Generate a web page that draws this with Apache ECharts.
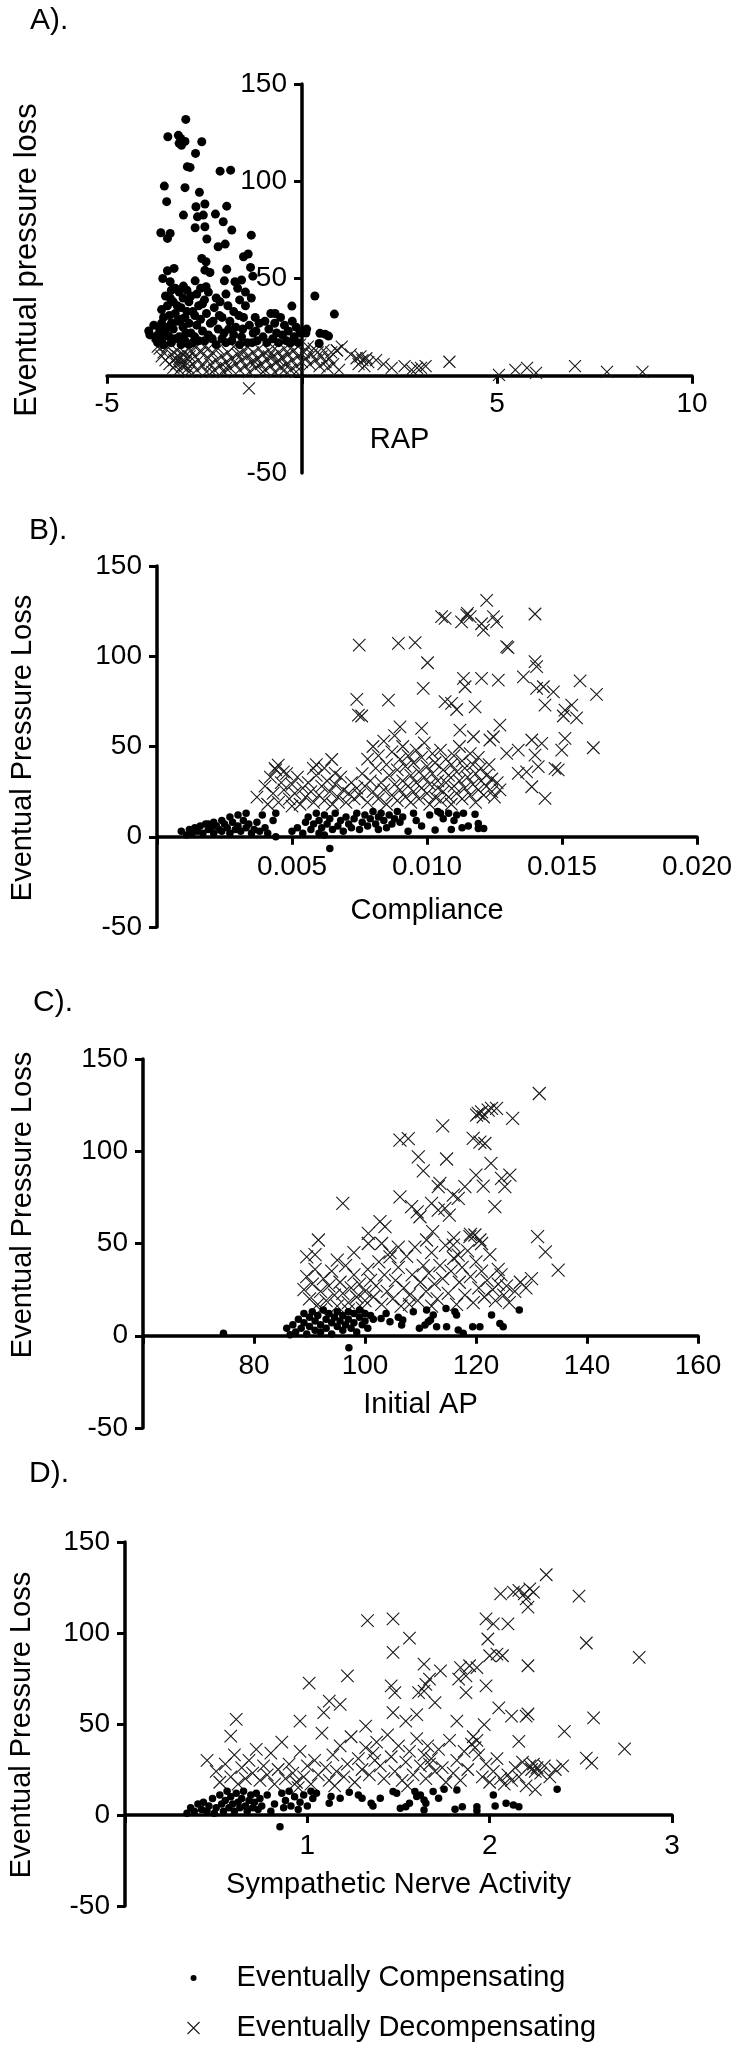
<!DOCTYPE html>
<html>
<head>
<meta charset="utf-8">
<script src="https://cdn.jsdelivr.net/npm/echarts@6/dist/echarts.min.js"></script>
<style>
html,body{margin:0;padding:0;background:#fff;}
#c{width:738px;height:2050px;}
</style>
</head>
<body>
<div id="c"></div>
<script>
// ---------- labels ----------
const panelLabels = ["A).", "B).", "C).", "D)."];
const xTitles = ["RAP", "Compliance", "Initial AP", "Sympathetic Nerve Activity"];
const yTitles = ["Eventual pressure loss", "Eventual Pressure Loss", "Eventual Pressure Loss", "Eventual Pressure Loss"];
const seriesNames = ["Eventually Compensating", "Eventually Decompensating"];
const yTicks = [-50, 0, 50, 100, 150];
const xTicksA = [-5, 0, 5, 10];
const xTicksB = [0, 0.005, 0.010, 0.015, 0.020];
const xTicksC = [60, 80, 100, 120, 140, 160];
const xTicksD = [0, 1, 2, 3];

// ---------- Panel A: RAP vs pressure loss ----------
const rapComp = [
[-2.98,131.8],[-3.44,122.9],[-3.17,123.6],[-3.11,122],[-3.15,119.5],[-3.0,120.5],[-3.09,118.5],[-2.57,120.3],[-2.73,114.3],[-2.94,107.5],[-2.87,107.1],[-2.1,105.2],[-1.83,105.7],[-3.53,97.5],[-3.0,96.7],[-3.47,89.5],[-2.63,94.3],[-2.72,86.9],[-2.49,88.3],[-1.93,87.2],[-3.04,82.6],[-2.68,81.7],[-2.53,82.6],[-2.22,83.1],[-2.02,79.2],[-2.74,76.1],[-2.49,76.6],[-1.8,74.9],[-3.62,73.5],[-3.38,73.2],[-3.45,70.6],[-2.44,70.3],[-1.3,72.3],[-2.15,66.3],[-1.97,67.7],[-1.5,61.2],[-1.38,62.6],[-2.57,60.3],[-2.46,58.6],[-1.32,55.7],[-3.57,50],[-3.45,54],[-3.28,55.2],[-2.49,54.3],[-2.36,53.1],[-1.93,54.7],[-1.26,51.2],[-3.38,48.3],[-1.99,48.8],[-1.72,48.3],[-1.55,49.2],[-3.04,46.1],[-2.74,48.8],[-2.46,45.8],
[-3.93,23],[-3.9,21],[-3.75,19],[-3.7,21],[-3.62,18],[-3.55,16],[-3.5,22],[-3.45,25],[-3.4,20],[-3.35,17],[-3.3,24],[-3.55,30],[-3.45,36],[-3.38,40],[-3.5,41],[-3.3,38],[-3.25,32],[-3.2,28],[-3.15,20],[-3.1,16],[-3.05,25],[-3.0,30],[-3.1,35],[-3.05,40],[-2.95,44],[-3.15,43],[-2.9,38],[-2.95,33],[-2.9,27],[-2.85,22],[-2.8,17],[-2.75,20],[-2.7,26],[-2.75,31],[-2.65,36],[-2.7,42],[-2.6,45],[-2.6,29],[-2.55,23],[-2.5,18],[-2.45,32],[-2.5,39],[-2.4,43],[-2.35,27],[-3.35,27],[-3.6,27],[-3.25,45],[-3.0,18],[-3.65,24],[-3.8,26],
[-3.4,31],[-3.2,36],[-3.25,19],[-2.85,41],[-2.8,33],[-2.65,18],[-3.1,29],[-2.98,22],[-3.55,20],[-3.7,17],[-3.6,34],[-2.4,21],[-2.55,37],[-3.35,44],[-2.9,16],
[-2.3,19],[-2.25,35],[-2.2,40],[-2.15,24],[-2.1,38],[-2.05,30],[-2.0,22],[-1.95,42],[-1.9,36],[-1.85,28],[-1.8,18],[-1.75,33],[-1.7,25],[-1.65,45],[-1.6,39],[-1.55,20],[-1.5,30],[-1.45,36],[-1.4,17],[-1.35,26],[-1.3,40],[-1.25,22],[-1.2,30],[-1.15,18],[-1.1,27],[-2.2,16],[-1.95,17],[-1.6,16],[-1.45,43],[-1.75,21],
[-2.28,28],[-2.05,19],[-1.88,24],[-1.62,31],[-1.52,24],[-1.28,17],[-1.18,23],[-2.12,31],
[-1.0,20],[-0.95,28],[-0.9,17],[-0.85,24],[-0.8,32],[-0.75,19],[-0.7,27],[-0.65,22],[-0.6,17],[-0.55,30],[-0.5,21],[-0.45,26],[-0.4,18],[-0.35,23],[-0.3,17],[-0.25,28],[-0.2,20],[-0.15,25],[-0.1,17],[-0.05,22],[-0.69,32],[-0.26,35.8],
[0.12,24],[0.1,22],[0.33,41],[0.46,21.8],[0.59,21.4],[0.68,20.4],[0.44,16.6],[0.83,31.7]
];
const rapDecomp = [
[-3.65,14],[-3.6,10],[-3.55,12],[-3.5,8],[-3.45,15],[-3.4,6],[-3.35,11],[-3.3,4],[-3.25,9],[-3.2,13],[-3.15,3],[-3.1,7],[-3.05,11],[-3.0,5],[-2.95,9],[-2.9,2],[-2.85,13],[-2.8,6],[-2.75,10],[-2.7,3],[-2.65,8],[-2.6,12],[-2.55,5],[-2.5,15],[-2.45,2],[-2.4,9],[-2.35,6],[-2.3,12],[-2.25,3],[-2.2,8],[-2.15,14],[-2.1,5],[-2.05,10],[-2.0,2],[-1.95,7],[-1.9,12],[-1.85,4],[-1.8,9],[-1.75,15],[-1.7,6],[-1.65,11],[-1.6,3],[-1.55,8],[-1.5,13],[-1.45,5],[-1.4,10],[-1.35,2],[-1.3,7],[-1.25,12],[-1.2,4],[-1.15,9],[-1.1,14],[-1.05,6],[-1.0,11],[-0.95,3],[-0.9,8],[-0.85,13],[-0.8,5],[-0.75,10],[-0.7,2],[-0.65,7],[-0.6,12],[-0.55,4],[-0.5,9],[-0.45,14],[-0.4,6],[-0.35,11],[-0.3,3],[-0.25,8],[-0.2,13],[-0.15,5],[-0.1,10],[-0.05,16],[0.0,7],
[-3.12,9],[-3.08,5],[-3.02,12],[-2.98,7],[-3.18,10],[-2.92,4],[-3.22,6],[-3.28,8],[-2.88,10],[-3.5,16],[-3.7,15],
[-1.95,4],[-1.55,11],[-1.2,7],[-0.85,10],[-0.6,8],[-0.45,3],[-0.3,14],[-0.15,2],[-0.7,14],[-1.4,15],[-2.4,14],[-2.7,15],[-2.3,2],[-1.0,2],
[0.05,12],[0.1,9],[0.15,15],[0.2,6],[0.25,11],[0.3,14],[0.35,8],[0.4,12],[0.45,5],[0.5,10],[0.55,13],[0.6,7],[0.65,4],[0.7,9],[0.75,12],[0.8,6],[0.9,13],[0.95,3],[1.02,15],[0.89,13],
[1.25,11],[1.4,9],[1.45,6],[1.5,10],[1.55,8],[1.6,5],[1.65,9],[1.7,7],[1.9,8],[2.09,6],[2.3,4],[2.63,5],[2.81,3],[2.95,4],[3.05,4],[3.17,5],[3.78,7.2],
[5.05,0.5],[5.47,3],[5.77,4],[6.0,1.5],[7.0,5],[7.82,2],[8.73,2],[-1.36,-6.5]
];

// ---------- Panel B: Compliance vs pressure loss ----------
const compComp = [
[0.0009,3],[0.0011,1],[0.0012,4],[0.0013,2],[0.0014,5],[0.0015,3],[0.0016,6],[0.0017,2],[0.0018,7],[0.0019,4],[0.0020,5],[0.0021,8],[0.0021,2],[0.0022,6],[0.0023,4],[0.0024,9],[0.0024,3],[0.0025,7],[0.0026,5],[0.0027,11],[0.0027,2],[0.0028,8],[0.0029,4],[0.0030,12],[0.0030,6],[0.0031,3],[0.0032,9],[0.0033,5],[0.0033,13],[0.0034,7],[0.0035,2],[0.0036,4],[0.0037,8],[0.0038,3],[0.0039,12],[0.0040,5],[0.0041,2],[0.0043,9],[0.0044,13],[0.0044,0],[0.0015,4.5],[0.0019,7],
[0.0050,3],[0.0052,5],[0.0054,2],[0.0055,8],[0.0056,11],[0.0057,4],[0.0058,7],[0.0059,13],[0.0060,2],[0.0060,9],[0.0061,5],[0.0062,12],[0.0062,1],[0.0063,7],[0.0064,10],[0.0064,-6.5],[0.0065,4],[0.0066,13],[0.0067,6],[0.0068,9],[0.0069,3],[0.0070,11],[0.0071,7],[0.0072,5],[0.0073,10],[0.0074,13],[0.0075,4],
[0.0076,8],[0.0077,12],[0.0078,6],[0.0079,10],[0.0080,14],[0.0081,7],[0.0082,4],[0.0082,11],[0.0083,13],[0.0084,9],[0.0085,5],[0.0086,12],[0.0087,7],[0.0088,10],[0.0089,14],[0.0090,8],[0.0091,11],[0.0093,3],[0.0095,13],[0.0096,9],[0.0098,6],[0.0101,12],[0.0103,3.7],[0.0104,14],[0.0105,13],[0.0106,10],[0.0108,13],[0.0109,4],[0.0110,9],[0.0111,12],[0.01135,13],[0.0113,5],[0.01153,6],[0.01178,12.5],[0.0119,7.4],[0.0119,4.6],[0.0121,4.6]
];
const compDecomp = [
[0.01221,131],[0.01054,121.9],[0.01067,121],[0.01128,119],[0.01147,122.8],[0.0116,121.9],[0.0115,123.7],[0.01202,118],[0.01209,114.5],[0.01246,121.9],[0.01258,119],[0.0140,123.4],
[0.00749,106.2],[0.00894,107.1],[0.00956,107.5],[0.01295,105.3],[0.0130,104.8],[0.01002,96.4],[0.0140,97],[0.01406,94.2],
[0.00986,82.2],[0.01135,87.7],[0.01141,83.1],[0.01202,87.7],[0.01264,86.8],[0.01357,88.6],[0.01406,82.2],[0.01431,83.1],[0.01468,80.3],[0.01567,86.4],[0.01628,78.9],
[0.0074,76.1],[0.00857,75.7],[0.00746,67.4],[0.00758,66.9],[0.01067,74.8],[0.01091,73.9],[0.0111,70.5],[0.01178,72],[0.01437,72.9],[0.01511,70.2],[0.01536,72.9],[0.01505,66.9],[0.01554,65.9],
[0.0090,60.9],[0.0098,60],[0.01122,59.1],[0.0127,61.9],[0.01172,55.4],[0.01233,53.6],[0.01246,55.4],[0.01388,53.6],[0.01425,51.7],[0.01511,54.5],[0.01295,46.2],[0.01338,48],[0.0140,45.2],[0.01412,38.8],[0.01499,48],[0.01616,49.3],[0.01474,37.9],[0.01486,37],[0.01338,35.1],[0.01369,36],[0.01388,27.7],[0.01437,21.3],
[0.00647,42.8],[0.00579,37.9],[0.00449,39.7],[0.00437,37.9],[0.00468,36],[0.0066,35.1],
[0.0037,22],[0.0040,28],[0.0042,33],[0.0043,24],[0.0045,19],[0.0046,30],[0.0047,26],[0.0048,35],[0.0049,21],[0.0050,29],[0.0051,24],[0.0052,33],[0.0053,18],[0.0054,27],[0.0055,22],[0.0041,18],[0.0044,37],[0.0050,17],
[0.0056,30],[0.0057,25],[0.0058,19],[0.0059,34],[0.0060,23],[0.0061,28],[0.0062,20],[0.0063,31],[0.0064,25],[0.0065,18],[0.0066,29],[0.0067,22],[0.0068,33],[0.0069,26],[0.0070,19],[0.0071,24],[0.0072,30],[0.0073,21],[0.0074,27],[0.0062,38],[0.0059,40],
[0.0075,23],[0.0076,35],[0.0077,28],[0.0078,19],[0.0078,43],[0.0079,31],[0.0080,25],[0.0080,50],[0.0081,38],[0.0082,21],[0.0082,45],[0.0083,30],[0.0084,26],[0.0084,53],[0.0085,40],[0.0085,18],[0.0086,34],[0.0087,23],[0.0087,47],[0.0088,29],[0.0088,56],[0.0089,37],[0.0089,20],[0.0090,43],[0.0090,26],[0.0091,31],[0.0091,50],[0.0092,22],[0.0092,39],[0.0093,45],[0.0093,28],[0.0094,34],[0.0094,19],[0.0095,41],[0.0095,25],[0.0096,48],[0.0096,30],[0.0097,36],[0.0097,21],[0.0098,27],[0.0098,44],[0.0099,33],[0.0099,52],[0.0100,24],[0.0100,39],[0.0101,29],[0.0101,18],[0.0102,46],[0.0102,35],[0.0103,22],[0.0103,41],[0.0104,27],[0.0104,31],[0.0105,20],[0.0105,48],[0.0106,37],[0.0106,25],[0.0107,43],[0.0107,30],[0.0108,22],[0.0108,34],[0.0109,40],[0.0109,18],[0.0110,28],[0.0110,45],[0.0111,24],[0.0111,36],[0.0112,31],[0.0112,50],[0.0113,21],[0.0113,42],[0.0114,27],[0.0114,38],[0.0115,33],[0.0116,23],[0.0116,46],[0.0117,29],[0.0117,40],[0.0118,35],[0.0118,19],[0.0119,26],[0.0119,44],[0.0120,31],[0.0120,38],[0.0121,23],[0.0122,34],[0.0122,28],[0.0123,40],[0.0124,25],[0.0124,32],[0.0125,22],[0.0126,30],[0.0127,26]
];

// ---------- Panel C: Initial AP vs pressure loss ----------
const apComp = [
[74.5,1.3],[85.9,4],[86.5,0.5],[87,6],[87.5,2],[88,9],[88.5,4],[89,12],[89,7],[89.5,1],[90,10],[90,5],[90.5,13],[91,3],[91,8],[91.5,11],[92,6],[92,2],[92.5,14],[93,9],[93,4],[93.5,12],[94,7],[94,1],[94.5,10],[95,5],[95,13],[95.5,8],[96,3],[96,11],[96.5,6],[97,13],[97,9],[97.5,4],[98,12],[98,7],[98.5,2],[99,10],[99,14],[99.5,6],[100,12],[100,8],[100.5,4],[101,11],[101.5,9],[97.1,-6.5],
[102.9,9.4],[103.8,12.1],[104.5,7.6],[106,10],[106.6,5.8],[106.8,8.5],[108.7,13],[109.8,4],[110.8,5.8],[111.4,7.6],[111.1,13.9],[111.8,8.5],[112.3,11.2],[112.9,4.9],[114.6,14.8],[114.7,4.9],[116.2,13],[116.5,11.2],[116.8,3.1],[117.7,1.3],[119.4,4.9],[120.7,4.9],[122.8,11.2],[124.3,6.7],[124.9,4.9],[127.8,13.9]
];
const apDecomp = [
[131.4,131.3],[120.4,120.5],[121,121.4],[122.2,122.3],[122.8,123.2],[123.7,123.2],[120.1,119.6],[121.3,118.7],[126.6,117.8],[114,113.8],[106.3,106],[107.8,106.9],[119.5,107],[120.7,105],[121.6,104.2],[109.6,97],[114.7,95.8],[110.5,89.4],[122.7,93.4],[124.6,85.3],[126.1,87.1],[125.2,80.8],[120,87.1],[113.5,82.6],[113.2,80.8],[121.3,81.1],[118,80.8],[106.3,75.3],[115.9,76.2],[116.8,74.4],[123.4,70],[108.4,70],[109.4,67.2],[109.9,64.5],[112,71.7],[113.2,68.1],[114.4,69],[115.2,65.4],[96,71.7],[102.7,61.8],[103.6,59.1],[112.2,56.4],[100.6,55.5],[118.9,53.7],[119.8,54.6],[120.7,51.9],[111.1,51.9],[91.6,51.9],[131.1,53.7],[132.5,45.5],[134.8,35.6],[89.5,42.8],[100.6,50],[115.9,49.1],[116.8,43.7],[104.5,42.8],
[89,25],[89.5,32],[90,20],[90.5,28],[91,36],[91.5,17],[92,24],[92.5,31],[93,19],[93.5,27],[94,35],[94.5,22],[95,16],[95.5,29],[96,23],[96.5,38],[97,18],[97.5,26],[98,33],[98.5,21],[99,28],[99.5,15],[100,24],[100.5,36],[91,44],[95,41],[98,45],[92,14],[97,14],[100,19],
[101,30],[101.5,21],[102,27],[102.5,40],[103,17],[103.5,33],[104,24],[104.5,45],[105,20],[105.5,30],[106,37],[106.5,16],[107,26],[107.5,43],[108,22],[108.5,33],[109,48],[109.5,19],[110,29],[110.5,38],[103,50],[106,48],[108,17],
[111,24],[111.5,34],[112,45],[112.5,28],[113,20],[113.5,38],[114,31],[114.5,49],[115,23],[115.5,35],[116,42],[116.5,17],[117,29],[117.5,37],[118,22],[118.5,46],[119,32],[119.5,18],[120,40],[120.5,26],[121,35],[121.5,21],[122,30],[122.5,44],[123,25],[123.5,19],[124,28],[124.5,33],[125,22],[125.5,27],[126,18],[127,24],[128,29],[129,26],[130,31],[112,16],[116,53],[119,55],[121,50],[124,36]
];

// ---------- Panel D: Sympathetic nerve activity vs pressure loss ----------
const snaComp = [
[0.34,1],[0.36,4],[0.38,2],[0.4,6],[0.42,3],[0.43,7],[0.45,2],[0.46,5],[0.48,9],[0.49,1],[0.5,4],[0.52,11],[0.53,6],[0.54,2],[0.55,8],[0.56,13],[0.57,4],[0.58,10],[0.59,6],[0.6,2],[0.61,12],[0.62,7],[0.63,4],[0.64,9],[0.65,13],[0.66,5],[0.67,2],[0.68,8],[0.69,11],[0.7,4],[0.71,7],[0.72,12],[0.73,3],[0.74,9],[0.75,5],[0.78,11],[0.8,2],[0.82,6],[0.85,-6.5],[0.86,12],[0.87,4],[0.88,8],[0.9,13],[0.91,5],[0.93,10],[0.95,3],[0.96,7],[0.98,11],[1.0,5],[1.02,13],[1.03,9],[1.05,12],
[1.13,10.1],[1.12,6.4],[1.18,9.2],[1.23,12.5],[1.28,11],[1.3,9.2],[1.35,6.4],[1.36,5],[1.4,9.2],[1.47,12.9],[1.49,12],[1.51,3.7],[1.54,4.6],[1.56,6.4],[1.59,12.9],[1.6,10.1],[1.62,11],[1.64,8.3],[1.65,6.4],[1.64,2.8],[1.69,12.9],[1.72,9.2],[1.75,14.2],[1.82,13.8],[1.81,3.1],[1.85,4.6],[1.93,4.6],[1.93,2.4],[2.02,11],[2.03,5],[2.09,6.4],[2.13,5.5],[2.16,4.6],[2.37,14.2]
];
const snaDecomp = [
[2.31,132],[2.06,121.5],[2.13,122.5],[2.16,123.4],[2.19,121.5],[2.22,124.3],[2.2,118.8],[2.21,114.2],[2.24,122.5],[2.49,120.3],[1.33,106.8],[1.47,107.7],[1.98,107.7],[2.02,105],[2.1,105],[1.56,97.2],[1.99,96.7],[2.0,87.5],[2.04,88.4],[2.07,87.5],[2.53,94.5],[2.82,86.6],[1.47,89.3],[2.21,82],[1.64,82.9],[1.73,79.2],[1.84,81],[1.89,82],[1.93,81],[1.01,72.4],[1.22,76.4],[1.67,74.6],[1.65,71.8],[1.64,68.1],[1.46,70.9],[1.48,67.2],[1.61,67.2],[1.83,74.6],[1.87,76.4],[1.98,70.9],[1.87,67.2],[1.7,61.7],[1.12,62.6],[1.18,60.8],[1.47,56.2],[2.05,58.9],[2.12,54.3],[2.2,54.3],[2.21,55.5],[2.57,53.4],[0.61,52.5],[0.96,51.6],[1.09,56.2],[0.58,43.3],[1.32,48.8],[1.54,51.6],[1.6,55.2],[1.82,51.6],[1.97,49.7],[2.41,46],[2.74,36.3],[2.53,31.3],[2.56,28.5],[2.16,40.5],
[0.45,30],[0.5,24],[0.52,18],[0.55,28],[0.58,21],[0.6,33],[0.62,17],[0.64,26],[0.66,20],[0.68,30],[0.7,23],[0.72,36],[0.74,19],[0.76,27],[0.78,22],[0.8,34],[0.82,17],[0.84,25],[0.86,40],[0.88,20],[0.9,28],[0.92,23],[0.94,18],[0.96,35],[0.98,21],[1.0,27],[1.02,17],[1.04,30],[1.06,22],[1.08,45],[1.1,26],[1.12,19],[1.14,33],[1.16,24],[1.18,38],[1.2,21],[1.22,28],[1.24,43],[1.26,18],[1.28,31],[1.3,25],[1.32,37],[1.34,22],[1.36,34],[1.37,30],[1.38,40],[1.4,27],[1.42,20],[1.44,44],[1.46,32],[1.48,24],[1.5,38],[1.52,19],[1.54,29],[1.56,35],[1.58,22],[1.6,42],[1.62,27],[1.64,33],[1.65,20],[1.66,38],[1.67,28],[1.68,31],[1.7,24],[1.72,36],[1.74,26],[1.76,18],[1.78,41],[1.8,23],[1.82,30],[1.84,19],[1.86,35],[1.88,25],[1.9,39],[1.91,43],[1.92,37],[1.93,41],[1.94,33],[1.96,21],[1.98,28],[2.0,18],[2.02,24],[2.04,31],[2.06,20],[2.08,17],[2.1,22],[2.12,19],[2.14,26],[2.16,21],[2.18,29],[2.2,16],[2.22,27],[2.23,25],[2.24,28],[2.25,24],[2.26,26],[2.28,23],[2.3,27],[2.33,21],[2.36,25],[2.4,27],[0.95,15],[1.15,16],[1.55,16],[2.25,14]
];

// ---------- chart ----------
const FONT = '"Liberation Sans", Arial, Helvetica, sans-serif';
const CROSS = 'path://M0,0L20,20M20,0L0,20';
const DOT_SMALL = 'path://M0,0M14,14M7,7m-3.5,0a3.5,3.5 0 1,0 7,0a3.5,3.5 0 1,0 -7,0';

const chart = echarts.init(document.getElementById('c'), null, {renderer: 'canvas'});

const yMin = yTicks[0], yMax = yTicks[yTicks.length-1];
const axisLineStyle = {color: '#000', width: 3.5};
const tickStyle = {show: true, length: 8, lineStyle: {color: '#000', width: 3}};
const labelBase = {fontFamily: FONT, fontSize: 28, color: '#000'};
const Y_LABEL_MARGIN = 15;

// Panel A is split at RAP = 0 into a negative half and a positive half so that the
// y-axis sits on the left edge of the positive half (the axes cross at the origin).
const boxA = {left: 107, top: 84, width: 585, height: 389};
const fracA = (0 - xTicksA[0]) / (xTicksA[xTicksA.length-1] - xTicksA[0]);
const boxes = [
  {left: boxA.left, top: boxA.top, width: boxA.width * fracA, height: boxA.height},                        // A, RAP < 0
  {left: boxA.left + boxA.width * fracA, top: boxA.top, width: boxA.width * (1 - fracA), height: boxA.height}, // A, RAP >= 0
  {left: 157, top: 566, width: 540, height: 361},
  {left: 143, top: 1059, width: 555, height: 369},
  {left: 125, top: 1542, width: 547, height: 364}
];
const axesDef = [
  {min: xTicksA[0], max: 0, interval: 5, name: '', nameGap: 0, margin: 15, fmt: v => (v === 0 ? '' : String(v)), showY: false},
  {min: 0, max: xTicksA[xTicksA.length-1], interval: 5, name: '', nameGap: 0, margin: 15, fmt: v => (v === 0 ? '' : String(v)), showY: true,
   yfmt: v => (v === 0 ? '' : String(v)), hideMinY: true},
  {min: xTicksB[0], max: xTicksB[xTicksB.length-1], interval: 0.005, name: xTitles[1], nameGap: 60, margin: 17,
   fmt: v => (Math.abs(v) < 1e-9 ? '' : v.toFixed(3)), showY: true},
  {min: xTicksC[0], max: xTicksC[xTicksC.length-1], interval: 20, name: xTitles[2], nameGap: 55, margin: 17,
   fmt: v => (v === 60 ? '' : String(v)), showY: true},
  {min: xTicksD[0], max: xTicksD[xTicksD.length-1], interval: 1, name: xTitles[3], nameGap: 55, margin: 17,
   fmt: v => (v === 0 ? '' : String(v)), showY: true}
];
const grids = boxes.map(b => Object.assign({containLabel: false, outerBoundsMode: 'none'}, b));

const xAxes = axesDef.map((d, i) => {
  const b = boxes[i];
  const zeroFromBottom = (0 - yMin) / (yMax - yMin) * b.height;
  return {
    type: 'value', gridIndex: i, min: d.min, max: d.max, interval: d.interval,
    position: 'bottom', offset: -zeroFromBottom,
    name: d.name, nameLocation: 'middle', nameGap: d.nameGap,
    nameTextStyle: {fontFamily: FONT, fontSize: 29, color: '#000'},
    axisLine: {show: true, onZero: false, lineStyle: axisLineStyle},
    axisTick: tickStyle,
    axisLabel: Object.assign({margin: d.margin, formatter: d.fmt}, labelBase),
    splitLine: {show: false}
  };
});
const yAxes = axesDef.map((d, i) => ({
  type: 'value', gridIndex: i, min: yMin, max: yMax, interval: 50, position: 'left',
  show: d.showY,
  axisLine: {show: true, onZero: false, lineStyle: axisLineStyle},
  axisTick: tickStyle,
  axisLabel: Object.assign({margin: Y_LABEL_MARGIN, formatter: d.yfmt || (v => String(v)),
    showMinLabel: d.hideMinY ? false : null}, labelBase),
  splitLine: {show: false}
}));

// series data per grid (panel A split by the sign of RAP)
const gridData = [
  [rapComp.filter(p => p[0] < 0), rapDecomp.filter(p => p[0] < 0)],
  [rapComp.filter(p => p[0] >= 0), rapDecomp.filter(p => p[0] >= 0)],
  [compComp, compDecomp], [apComp, apDecomp], [snaComp, snaDecomp]
];
const dotSizes = [9, 9, 7.5, 7.5, 7.5];
const crossSizes = [12, 12, 12.5, 13, 12.5];

const series = [];
gridData.forEach((pair, i) => {
  series.push({
    name: seriesNames[0], type: 'scatter', xAxisIndex: i, yAxisIndex: i, clip: false,
    data: pair[0], symbol: 'circle', symbolSize: dotSizes[i],
    itemStyle: {color: '#000', opacity: 1}, emphasis: {disabled: true}, z: 3
  });
  series.push({
    name: seriesNames[1], type: 'scatter', xAxisIndex: i, yAxisIndex: i, clip: false,
    data: pair[1], symbol: CROSS, symbolSize: crossSizes[i],
    itemStyle: {color: 'transparent', borderColor: '#1a1a1a', borderWidth: 1.1, opacity: 1},
    emphasis: {disabled: true}, z: 2
  });
});

const yTitlePos = [[27, 260], [23, 748], [23, 1205], [22, 1725]];
const panelPos = [[30, 21], [29, 531], [33, 1003], [29, 1474]];
const graphic = [];
yTitles.forEach((t, i) => {
  graphic.push({type: 'text', x: yTitlePos[i][0], y: yTitlePos[i][1], rotation: Math.PI / 2,
    style: {text: t, fontFamily: FONT, fontSize: i === 0 ? 31 : 29, fill: '#000', align: 'center', verticalAlign: 'middle'}});
});
panelLabels.forEach((t, i) => {
  graphic.push({type: 'text', x: panelPos[i][0], y: panelPos[i][1],
    style: {text: t, fontFamily: FONT, fontSize: 30, fill: '#000', align: 'left', verticalAlign: 'middle'}});
});
// x title of panel A, centred under the whole RAP axis
graphic.push({type: 'text', x: boxA.left + boxA.width / 2, y: 440,
  style: {text: xTitles[0], fontFamily: FONT, fontSize: 29, fill: '#000', align: 'center', verticalAlign: 'middle'}});
// bottom tick label of panel A's crossing y-axis, placed at the axis end
graphic.push({type: 'text', x: boxes[1].left - Y_LABEL_MARGIN, y: boxA.top + boxA.height,
  style: {text: String(yMin), fontFamily: FONT, fontSize: 28, fill: '#000', align: 'right', verticalAlign: 'middle'}});

chart.setOption({
  backgroundColor: '#fff',
  animation: false,
  grid: grids,
  xAxis: xAxes,
  yAxis: yAxes,
  series: series,
  graphic: graphic,
  legend: {
    orient: 'vertical', left: 187, top: 1963, padding: 0, itemGap: 20, itemWidth: 12, itemHeight: 12,
    selectedMode: false,
    textStyle: {fontFamily: FONT, fontSize: 29, color: '#000', lineHeight: 30, padding: [0, 0, 0, 32]},
    data: [
      {name: seriesNames[0], icon: DOT_SMALL, itemStyle: {color: '#000', borderWidth: 0}},
      {name: seriesNames[1], icon: CROSS, itemStyle: {color: 'transparent', borderColor: '#1a1a1a', borderWidth: 1.1}}
    ]
  }
});
</script>
</body>
</html>
